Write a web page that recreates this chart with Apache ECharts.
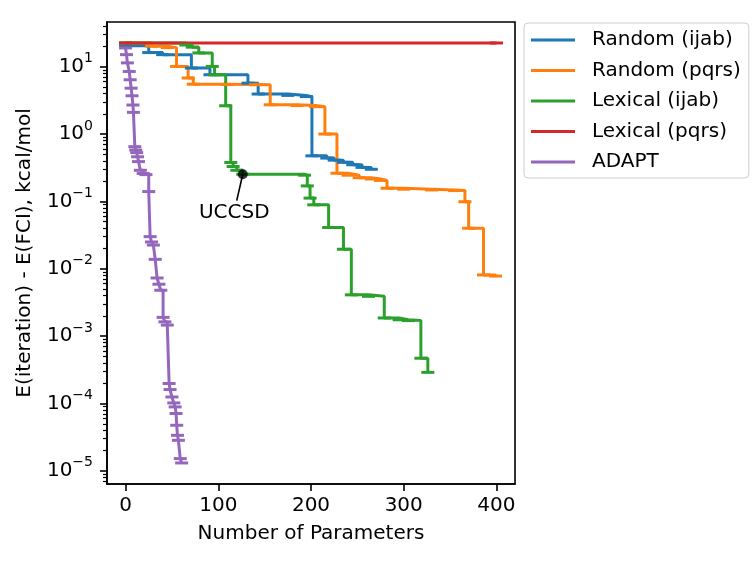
<!DOCTYPE html>
<html>
<head>
<meta charset="utf-8">
<title>Energy error vs parameters</title>
<script src="https://cdn.jsdelivr.net/npm/echarts@6/dist/echarts.min.js"></script>
<style>
  html, body { margin: 0; padding: 0; background: #fff; }
  #chart { width: 756px; height: 563px; }
</style>
</head>
<body>
<div id="chart"></div>
<script>
// [number of parameters, E(iteration) - E(FCI) in kcal/mol]
var randomIjab = [[0, 20.5], [25, 16.2], [40, 15.1], [71, 9.55], [91, 7.6], [132, 5.7], [143, 3.93],
  [175, 3.75], [195, 3.6], [201, 0.475], [217, 0.44], [225, 0.41], [235, 0.38], [245, 0.35],
  [255, 0.32], [265, 0.30]];
var randomPqrs = [[0, 22.5], [28, 20.2], [45, 19.2], [55, 10.1], [67.5, 6.8], [73, 5.5], [110, 5.45],
  [140, 5.4], [156, 2.72], [185, 2.65], [205, 2.55], [215, 1.0], [228, 0.262], [240, 0.245],
  [252, 0.225], [265, 0.215], [275, 0.205], [282, 0.157], [300, 0.152], [330, 0.148], [355, 0.145],
  [366, 0.099], [370, 0.040], [386, 0.0081], [399, 0.0078]];
var lexicalIjab = [[0, 22.5], [65, 21.0], [72, 19.5], [79, 16.0], [93.5, 10.1], [96, 7.6], [108, 2.63],
  [113.5, 0.378], [116, 0.33], [120, 0.29], [126.4, 0.253], [193, 0.245], [196, 0.17], [199, 0.112],
  [203, 0.089], [219, 0.041], [235, 0.0195], [243.5, 0.0041], [262, 0.0039], [279, 0.00186],
  [295, 0.00175], [305, 0.0017], [318.5, 0.00047], [326, 0.00029]];
var lexicalPqrs = [[0, 22.5], [400, 22.5]];
var adapt = [[0, 19.0], [1, 15.1], [2, 11.4], [4, 8.5], [5, 6.4], [6, 4.8], [7, 3.7], [8, 2.7],
  [8.5, 2.1], [10, 0.65], [11, 0.58], [12, 0.53], [13, 0.46], [14, 0.39], [16, 0.29], [19, 0.26],
  [22, 0.25], [25, 0.14], [26.5, 0.030], [28, 0.025], [30, 0.0225], [32, 0.0138], [34, 0.0073],
  [36, 0.0059], [38, 0.0048], [40.5, 0.0019], [42.5, 0.00163], [45, 0.00146], [47, 0.000198],
  [48, 0.000161], [50, 0.000125], [52, 0.000102], [53.5, 0.000089], [54.5, 0.000071],
  [55.2, 0.0000475], [56, 0.0000337], [57, 0.0000284], [59, 0.0000152], [60.5, 0.0000131]];

var seriesNames = ['Random (ijab)', 'Random (pqrs)', 'Lexical (ijab)', 'Lexical (pqrs)', 'ADAPT'];
var seriesColors = ['#1f77b4', '#ff7f0e', '#2ca02c', '#d62728', '#9467bd'];

var xTicks = [0, 100, 200, 300, 400];
var yTicks = [1e-5, 1e-4, 1e-3, 1e-2, 1e-1, 1, 10];
var yMin = 6.38e-6, yMax = 46.1;

var uccsdPoint = [126.4, 0.253];
var uccsdLineEnd = [119.9, 0.103];
var uccsdText = [117.3, 0.0668];

// minor ticks of the log axis: 2..9 x 10^n
var yMinor = [];
for (var n = -6; n <= 1; n++) {
  for (var k = 2; k <= 9; k++) {
    var v = k * Math.pow(10, n);
    if (v > yMin && v < yMax) yMinor.push(v);
  }
}

function stepSeries(name, data, color) {
  return {
    name: name,
    type: 'line',
    step: 'end',
    data: data,
    symbol: 'rect',
    symbolSize: [13, 3],
    showSymbol: true,
    showAllSymbol: true,
    lineStyle: { width: 3, color: color },
    itemStyle: { color: color },
    emphasis: { disabled: true },
    animation: false
  };
}

var allData = [randomIjab, randomPqrs, lexicalIjab, lexicalPqrs, adapt];
var series = [];
for (var i = 0; i < allData.length; i++) {
  series.push(stepSeries(seriesNames[i], allData[i], seriesColors[i]));
}

series.push({
  name: 'UCCSD',
  type: 'scatter',
  data: [uccsdPoint],
  symbol: 'circle',
  symbolSize: 10,
  itemStyle: { color: '#000' },
  z: 5,
  animation: false,
  markLine: {
    silent: true,
    symbol: ['none', 'none'],
    label: { show: false },
    lineStyle: { color: '#000', width: 1.6, type: 'solid' },
    data: [[{ coord: uccsdPoint }, { coord: uccsdLineEnd }]],
    animation: false
  },
  markPoint: {
    silent: true,
    animation: false,
    data: [{
      coord: uccsdText,
      symbol: 'rect',
      symbolSize: 1,
      itemStyle: { color: 'rgba(0,0,0,0)' },
      label: { show: true, formatter: 'UCCSD', position: 'inside', color: '#000', fontSize: 20 }
    }]
  }
});

var chart = echarts.init(document.getElementById('chart'), null, { renderer: 'canvas' });

chart.setOption({
  animation: false,
  textStyle: { fontFamily: 'DejaVu Sans' },
  grid: {
    left: 107, right: 241, top: 22, bottom: 79,
    show: true, borderColor: '#000', borderWidth: 1.6, backgroundColor: 'rgba(0,0,0,0)'
  },
  legend: {
    data: seriesNames,
    orient: 'vertical',
    left: 524,
    top: 23,
    icon: 'rect',
    itemWidth: 44,
    itemHeight: 3,
    itemGap: 10.5,
    padding: [7, 8, 6, 7],
    borderColor: '#cccccc',
    borderWidth: 1,
    borderRadius: 4,
    backgroundColor: '#fff',
    textStyle: { fontSize: 20, color: '#000', padding: [0, 0, 0, 12] },
    selectedMode: false
  },
  xAxis: {
    type: 'value',
    min: -20,
    max: 420,
    name: 'Number of Parameters',
    nameLocation: 'middle',
    nameGap: 40,
    nameTextStyle: { fontSize: 20, color: '#000' },
    axisLine: { show: true, onZero: false, lineStyle: { color: '#000', width: 1.6 } },
    axisTick: { show: true, customValues: xTicks, length: 7, lineStyle: { color: '#000', width: 1.6 } },
    axisLabel: { customValues: xTicks, fontSize: 20, color: '#000', margin: 12 },
    splitLine: { show: false }
  },
  yAxis: [{
    type: 'log',
    logBase: 10,
    min: yMin,
    max: yMax,
    name: 'E(iteration) - E(FCI), kcal/mol',
    nameLocation: 'middle',
    nameGap: 72,
    nameTextStyle: { fontSize: 20, color: '#000' },
    axisLine: { show: true, onZero: false, lineStyle: { color: '#000', width: 1.6 } },
    axisTick: { show: true, customValues: yTicks, length: 7, lineStyle: { color: '#000', width: 1.6 } },
    axisLabel: {
      customValues: yTicks,
      margin: 14,
      color: '#000',
      formatter: function (v) {
        var e = Math.round(Math.log10(v));
        var s = e < 0 ? '\u2212' + (-e) : String(e);
        return '{b|10}{s|' + s + '}';
      },
      rich: {
        b: { fontSize: 20, lineHeight: 30, verticalAlign: 'middle', color: '#000' },
        s: { fontSize: 14, lineHeight: 14, verticalAlign: 'top', color: '#000' }
      }
    },
    splitLine: { show: false }
  }, {
    type: 'log',
    logBase: 10,
    min: yMin,
    max: yMax,
    position: 'left',
    offset: 0,
    axisLine: { show: false, onZero: false },
    axisTick: { show: true, customValues: yMinor, length: 4, lineStyle: { color: '#000', width: 1.2 } },
    axisLabel: { show: false },
    splitLine: { show: false }
  }],
  series: series
});
</script>
</body>
</html>
